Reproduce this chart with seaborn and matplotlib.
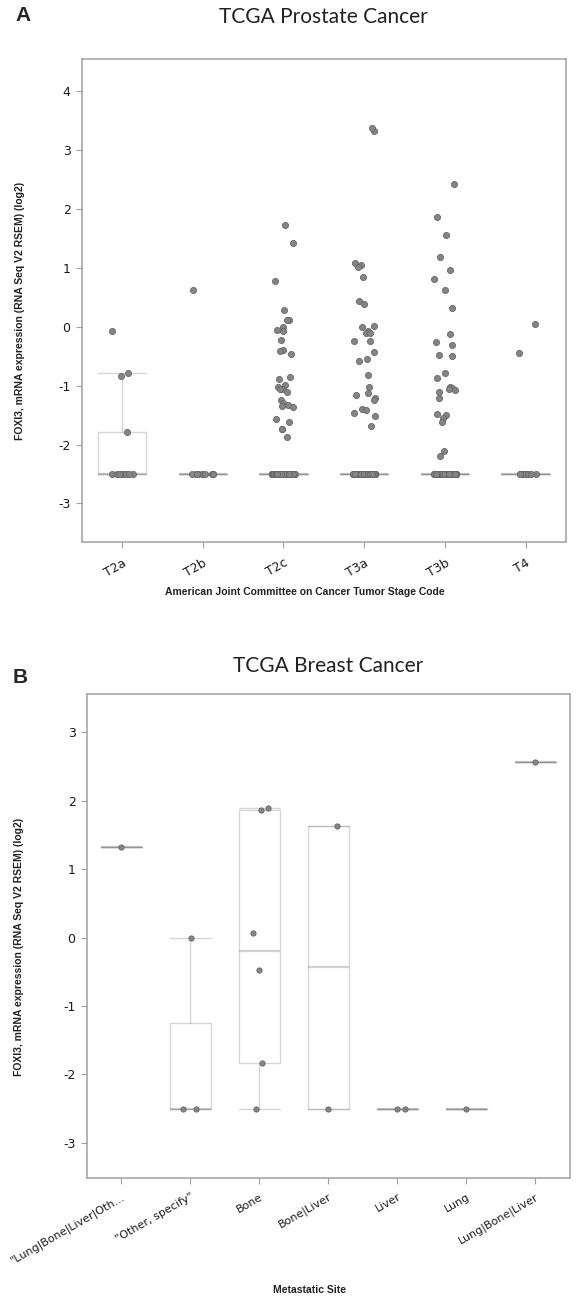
"""
Recreate the FOXI3 expression box/strip plots (TCGA prostate + breast).
Output: out.png
"""

import numpy as np
import pandas as pd
import matplotlib
matplotlib.use("Agg")
import matplotlib.pyplot as plt
import matplotlib.transforms as mtransforms
import seaborn as sns

# -------------------------------------------------------
# Data (log2 RSEM values)
# -------------------------------------------------------
FLOOR = -2.5  # samples with no expression sit on this floor

stage_labels = ["T2a", "T2b", "T2c", "T3a", "T3b", "T4"]
stage_floor_counts = [9, 9, 135, 129, 108, 8]
t2a_vals = [-0.07, -0.78, -0.84, -1.79]
t2b_vals = [0.62]
t2c_vals = [1.73, 1.43, 0.78, 0.28, 0.12, 0.12, -0.01, -0.06, -0.07, -0.23,
            -0.39, -0.41, -0.46, -0.85, -0.88, -0.98, -1.02, -1.05, -1.05,
            -1.11, -1.25, -1.30, -1.33, -1.34, -1.37, -1.57, -1.62, -1.74,
            -1.74, -1.87]
t3a_vals = [3.32, 3.37, 1.08, 1.05, 1.02, 0.84, 0.44, 0.39, 0.02, -0.01,
            -0.07, -0.10, -0.11, -0.24, -0.24, -0.42, -0.54, -0.58, -0.82,
            -1.02, -1.12, -1.15, -1.21, -1.24, -1.39, -1.41, -1.46, -1.51,
            -1.69]
t3b_vals = [2.43, 1.87, 1.56, 1.18, 0.97, 0.81, 0.62, 0.32, -0.12, -0.25,
            -0.31, -0.48, -0.50, -0.78, -0.87, -1.02, -1.04, -1.05, -1.08,
            -1.11, -1.21, -1.48, -1.50, -1.55, -1.62, -2.11, -2.20]
t4_vals = [0.04, -0.45]

site_labels = ['"Lung|Bone|Liver|Oth...', '"Other, specify"', "Bone",
               "Bone|Liver", "Liver", "Lung", "Lung|Bone|Liver"]
site_floor_counts = [0, 2, 1, 1, 2, 1, 0]
lbl_other_vals = [1.33]
other_specify_vals = [0.0]
bone_vals = [1.87, 1.89, 0.07, -0.47, -1.83]
bone_liver_vals = [1.63]
liver_vals = []
lung_vals = []
lung_bone_liver_vals = [2.56]

YLABEL = "FOXI3, mRNA expression (RNA Seq V2 RSEM) (log2)"

# -------------------------------------------------------
# Style
# -------------------------------------------------------
sns.set_style("white")
plt.rcParams["font.family"] = ["DejaVu Sans"]

FRAME = "#a0a0a0"
BOX_LINE = "#7a7a7a"
DOT = "#858585"
DOT_EDGE = "#666666"


def hinge_stats(values):
    """Tukey-hinge box stats (the way the portal draws its boxes)."""
    v = np.sort(np.asarray(values, dtype=float))
    n = len(v)
    half = (n + 1) // 2
    q1 = np.median(v[:half])
    q3 = np.median(v[n - half:])
    iqr = q3 - q1
    return {
        "med": np.median(v),
        "q1": q1,
        "q3": q3,
        "whislo": v[v >= q1 - 1.5 * iqr].min(),
        "whishi": v[v <= q3 + 1.5 * iqr].max(),
        "fliers": [],
    }


def build_groups(labels, floor_counts, value_lists):
    rows = []
    groups = []
    for lab, nfloor, vals in zip(labels, floor_counts, value_lists):
        g = list(vals) + [FLOOR] * nfloor
        groups.append(g)
        rows += [(lab, x) for x in g]
    return groups, pd.DataFrame(rows, columns=["group", "value"])


def draw_panel(ax, labels, groups, df, ylim, yticks, dot_size, jitter,
               label_dx, xlabel_size):
    sns.stripplot(data=df, x="group", y="value", order=labels, ax=ax,
                  color=DOT, edgecolor=DOT_EDGE, linewidth=0.6,
                  size=dot_size, jitter=jitter, zorder=3)

    line_kw = dict(color=BOX_LINE, alpha=0.3, linewidth=1.0)
    ax.bxp([hinge_stats(g) for g in groups], positions=range(len(groups)),
           widths=0.6, capwidths=0.6, showfliers=False, manage_ticks=False,
           boxprops=line_kw, whiskerprops=line_kw, capprops=line_kw,
           medianprops=dict(color=BOX_LINE, alpha=0.35, linewidth=1.6))

    ax.set_xlim(-0.5, len(labels) - 0.5)
    ax.set_ylim(*ylim)
    ax.set_yticks(yticks)
    ax.set_yticklabels([str(t) for t in yticks])
    ax.set_xticks(range(len(labels)))
    ax.set_xticklabels(labels, rotation=30, ha="right", va="top",
                       rotation_mode="anchor", fontsize=xlabel_size)
    offset = mtransforms.ScaledTranslation(label_dx / 72, 0,
                                           ax.figure.dpi_scale_trans)
    for t in ax.get_xticklabels():
        t.set_transform(t.get_transform() + offset)

    ax.set_xlabel("")
    ax.set_ylabel(YLABEL, family="Liberation Sans", fontweight="bold",
                  fontsize=7.5, color="#222222")

    for sp in ax.spines.values():
        sp.set_visible(True)
        sp.set_color(FRAME)
        sp.set_linewidth(1.1)
    ax.tick_params(axis="both", direction="out", length=4, width=0.8,
                   color=FRAME, labelcolor="#1a1a1a", pad=4,
                   bottom=True, left=True)
    ax.tick_params(axis="y", labelsize=9)
    ax.tick_params(axis="x", pad=6)


# -------------------------------------------------------
# Figure
# -------------------------------------------------------
np.random.seed(7)
fig = plt.figure(figsize=(5.77, 13.02), dpi=100)
fig.patch.set_facecolor("white")

axA = fig.add_axes([0.1416, 0.5835, 0.8393, 0.3712])
stage_groups, stage_df = build_groups(
    stage_labels, stage_floor_counts,
    [t2a_vals, t2b_vals, t2c_vals, t3a_vals, t3b_vals, t4_vals])
draw_panel(axA, stage_labels, stage_groups, stage_df, (-3.66, 4.55),
           [-3, -2, -1, 0, 1, 2, 3, 4], 4.4, 0.14, 7, 9)
axA.yaxis.set_label_coords(-0.117, 0.479)

axB = fig.add_axes([0.1503, 0.0955, 0.8376, 0.3715])
site_groups, site_df = build_groups(
    site_labels, site_floor_counts,
    [lbl_other_vals, other_specify_vals, bone_vals, bone_liver_vals,
     liver_vals, lung_vals, lung_bone_liver_vals])
draw_panel(axB, site_labels, site_groups, site_df, (-3.51, 3.56),
           [-3, -2, -1, 0, 1, 2, 3], 3.8, 0.13, 7, 8)
axB.yaxis.set_label_coords(-0.130, 0.477)

# titles, panel letters and x labels
fig.text(0.561, 0.9826, "TCGA Prostate Cancer", family="Lato", fontsize=15,
         ha="center", va="baseline", color="#222222")
fig.text(0.568, 0.4839, "TCGA Breast Cancer", family="Lato", fontsize=15,
         ha="center", va="baseline", color="#222222")
fig.text(0.026, 0.9839, "A", family="Liberation Sans", fontweight="bold",
         fontsize=15, va="baseline")
fig.text(0.022, 0.4754, "B", family="Liberation Sans", fontweight="bold",
         fontsize=15, va="baseline")
fig.text(0.529, 0.5453, "American Joint Committee on Cancer Tumor Stage Code",
         family="Liberation Sans", fontweight="bold", fontsize=7.5,
         ha="center", va="center", color="#222222")
fig.text(0.537, 0.0092, "Metastatic Site", family="Liberation Sans",
         fontweight="bold", fontsize=7.5, ha="center", va="center",
         color="#222222")

fig.savefig("out.png", dpi=100)
print("saved out.png")
